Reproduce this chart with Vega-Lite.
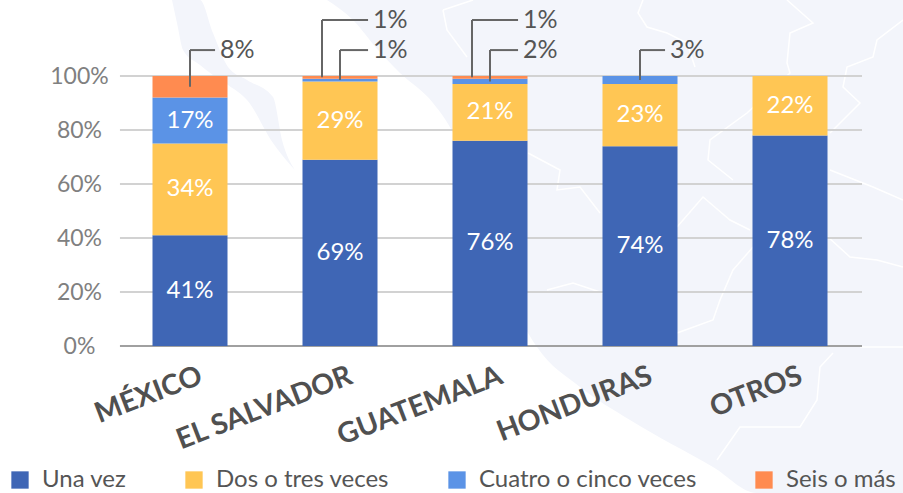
{
"$schema":"https://vega.github.io/schema/vega-lite/v6.json",
"width":750,"height":270,
"autosize":{"type":"none"},
"padding":{"left":115,"top":76,"right":38,"bottom":147},
"background":"white",
"config":{"view":{"stroke":null},"font":"Lato"},
"datasets":{
"bars":[
{"pais":"MÉXICO","serie":"Una vez","o":1,"value":0.41},{"pais":"MÉXICO","serie":"Dos o tres veces","o":2,"value":0.34},{"pais":"MÉXICO","serie":"Cuatro o cinco veces","o":3,"value":0.17},{"pais":"MÉXICO","serie":"Seis o más","o":4,"value":0.08},
{"pais":"EL SALVADOR","serie":"Una vez","o":1,"value":0.69},{"pais":"EL SALVADOR","serie":"Dos o tres veces","o":2,"value":0.29},{"pais":"EL SALVADOR","serie":"Cuatro o cinco veces","o":3,"value":0.01},{"pais":"EL SALVADOR","serie":"Seis o más","o":4,"value":0.01},
{"pais":"GUATEMALA","serie":"Una vez","o":1,"value":0.76},{"pais":"GUATEMALA","serie":"Dos o tres veces","o":2,"value":0.21},{"pais":"GUATEMALA","serie":"Cuatro o cinco veces","o":3,"value":0.02},{"pais":"GUATEMALA","serie":"Seis o más","o":4,"value":0.01},
{"pais":"HONDURAS","serie":"Una vez","o":1,"value":0.74},{"pais":"HONDURAS","serie":"Dos o tres veces","o":2,"value":0.23},{"pais":"HONDURAS","serie":"Cuatro o cinco veces","o":3,"value":0.03},
{"pais":"OTROS","serie":"Una vez","o":1,"value":0.78},{"pais":"OTROS","serie":"Dos o tres veces","o":2,"value":0.22}
],
"callouts":[
{"u":0.5,"ue":0.667,"tip":0.96,"level":1.096,"label":"8%"},
{"u":1.38,"ue":1.687,"tip":0.995,"level":1.207,"label":"1%"},
{"u":1.5,"ue":1.687,"tip":0.985,"level":1.096,"label":"1%"},
{"u":2.38,"ue":2.687,"tip":0.995,"level":1.207,"label":"1%"},
{"u":2.5,"ue":2.687,"tip":0.98,"level":1.096,"label":"2%"},
{"u":3.5,"ue":3.667,"tip":0.985,"level":1.096,"label":"3%"}
],
"grid":[{"g":0},{"g":0.2},{"g":0.4},{"g":0.6},{"g":0.8},{"g":1}],
"land":[
{"p":"a","mx":172,"lo":0,"hi":0},{"p":"a","mx":177,"lo":23,"hi":0},{"p":"a","mx":183,"lo":50,"hi":0},{"p":"a","mx":200,"lo":65,"hi":0},{"p":"a","mx":213,"lo":75,"hi":33},{"p":"a","mx":228,"lo":85,"hi":67},{"p":"a","mx":247,"lo":100,"hi":80},{"p":"a","mx":273,"lo":143,"hi":97},{"p":"a","mx":282,"lo":155,"hi":140},{"p":"a","mx":295,"lo":170,"hi":170},
{"p":"b","mx":327,"lo":0,"hi":0},{"p":"b","mx":353,"lo":20,"hi":0},{"p":"b","mx":378,"lo":50,"hi":0},{"p":"b","mx":400,"lo":73,"hi":0},{"p":"b","mx":433,"lo":103,"hi":0},{"p":"b","mx":453,"lo":133,"hi":0},{"p":"b","mx":490,"lo":250,"hi":0},{"p":"b","mx":537,"lo":347,"hi":0},{"p":"b","mx":580,"lo":387,"hi":0},{"p":"b","mx":630,"lo":420,"hi":0},{"p":"b","mx":713,"lo":467,"hi":0},{"p":"b","mx":757,"lo":493,"hi":0},{"p":"b","mx":903,"lo":493,"hi":0}
],
"borders":[
{"b":"a","i":1,"mx":643,"my":0},{"b":"a","i":2,"mx":638,"my":13},{"b":"a","i":3,"mx":647,"my":27},{"b":"a","i":4,"mx":667,"my":33},{"b":"a","i":5,"mx":687,"my":43},{"b":"a","i":6,"mx":695,"my":67},
{"b":"c","i":1,"mx":787,"my":0},{"b":"c","i":2,"mx":813,"my":23},{"b":"c","i":3,"mx":790,"my":33},{"b":"c","i":4,"mx":787,"my":63},{"b":"c","i":5,"mx":790,"my":73},{"b":"c","i":6,"mx":747,"my":113},{"b":"c","i":7,"mx":710,"my":140},{"b":"c","i":8,"mx":708,"my":160},{"b":"c","i":9,"mx":733,"my":180},
{"b":"d","i":1,"mx":903,"my":20},{"b":"d","i":2,"mx":877,"my":40},{"b":"d","i":3,"mx":873,"my":57},{"b":"d","i":4,"mx":847,"my":67},{"b":"d","i":5,"mx":843,"my":87},{"b":"d","i":6,"mx":860,"my":103},{"b":"d","i":7,"mx":830,"my":133},
{"b":"e","i":1,"mx":830,"my":170},{"b":"e","i":2,"mx":873,"my":187},{"b":"e","i":3,"mx":903,"my":200},
{"b":"f","i":1,"mx":677,"my":227},{"b":"f","i":2,"mx":703,"my":197},{"b":"f","i":3,"mx":730,"my":220},{"b":"f","i":4,"mx":750,"my":230},
{"b":"g","i":1,"mx":528,"my":153},{"b":"g","i":2,"mx":560,"my":170},{"b":"g","i":3,"mx":557,"my":190},{"b":"g","i":4,"mx":580,"my":187},{"b":"g","i":5,"mx":600,"my":213},
{"b":"h","i":1,"mx":677,"my":333},{"b":"h","i":2,"mx":713,"my":320},{"b":"h","i":3,"mx":720,"my":300},{"b":"h","i":4,"mx":733,"my":270},{"b":"h","i":5,"mx":753,"my":247},
{"b":"j","i":1,"mx":828,"my":237},{"b":"j","i":2,"mx":850,"my":257},{"b":"j","i":3,"mx":877,"my":260},{"b":"j","i":4,"mx":903,"my":267},
{"b":"k","i":1,"mx":547,"my":290},{"b":"k","i":2,"mx":573,"my":283},{"b":"k","i":3,"mx":603,"my":293},
{"b":"l","i":1,"mx":833,"my":353},{"b":"l","i":2,"mx":820,"my":367},{"b":"l","i":3,"mx":817,"my":400},{"b":"l","i":4,"mx":800,"my":427},{"b":"l","i":5,"mx":740,"my":427},{"b":"l","i":6,"mx":717,"my":460},
{"b":"m","i":1,"mx":860,"my":347},{"b":"m","i":2,"mx":903,"my":347},
{"b":"n","i":1,"mx":443,"my":10},{"b":"n","i":2,"mx":447,"my":30},{"b":"n","i":3,"mx":467,"my":57},
{"b":"o","i":1,"mx":443,"my":10},{"b":"o","i":2,"mx":473,"my":0}
]
},
"resolve":{"scale":{"x":"independent","y":"independent"}},
"layer":[
{"data":{"name":"land"},
 "mark":{"type":"area","color":"#f3f5fb","clip":false,"interpolate":"monotone"},
 "encoding":{
  "x":{"field":"mx","type":"quantitative","scale":{"domain":[115,865]},"axis":null},
  "y":{"field":"lo","type":"quantitative","scale":{"domain":[346,76]},"axis":null},
  "y2":{"field":"hi"},
  "detail":{"field":"p"}}},
{"data":{"name":"borders"},
 "mark":{"type":"line","color":"#ffffff","strokeWidth":1.5,"clip":false},
 "encoding":{
  "x":{"field":"mx","type":"quantitative","scale":{"domain":[115,865]},"axis":null},
  "y":{"field":"my","type":"quantitative","scale":{"domain":[346,76]},"axis":null},
  "detail":{"field":"b"},
  "order":{"field":"i"}}},
{"data":{"name":"grid"},"transform":[{"calculate":"0.033","as":"a"},{"calculate":"4.98","as":"z"}],
 "mark":{"type":"rule","strokeWidth":2,"clip":false},
 "encoding":{
  "y":{"field":"g","type":"quantitative","scale":{"domain":[0,1]},"axis":null},
  "x":{"field":"a","type":"quantitative","scale":{"domain":[0,5]},"axis":null},
  "x2":{"field":"z"},
  "color":{"condition":{"test":"datum.g===0","value":"#a0a0a0"},"value":"#d2d2d2"}}},
{"data":{"name":"bars"},
 "mark":{"type":"bar","width":75},
 "encoding":{
  "x":{"field":"pais","type":"nominal","sort":null,"scale":{"domain":["MÉXICO","EL SALVADOR","GUATEMALA","HONDURAS","OTROS"],"paddingInner":0.5,"paddingOuter":0.25},
   "axis":{"title":null,"domain":false,"ticks":false,"grid":false,"zindex":1,"labelAngle":-21,"labelAlign":"right","labelBaseline":"middle","labelFont":"Lato","labelFontWeight":"bold","labelFontSize":28.5,"labelColor":"#505050","labelPadding":28,"labelOffset":11,"labelLimit":300}},
  "y":{"field":"value","type":"quantitative","stack":"zero","scale":{"domain":[0,1]},
   "axis":{"title":null,"format":".0%","values":[0,0.2,0.4,0.6,0.8,1],"grid":false,"domain":false,"ticks":false,"labelFont":"Lato","labelFontSize":23,"labelColor":"#808080","labelAlign":"center","labelPadding":36}},
  "order":{"field":"o"},
  "color":{"field":"serie","type":"nominal","scale":{"domain":["Una vez","Dos o tres veces","Cuatro o cinco veces","Seis o más"],"range":["#3f66b5","#ffc654","#5b93e6","#ff8b50"]},
   "legend":{"title":null,"orient":"none","legendX":-107,"legendY":392,"direction":"horizontal","columns":4,"columnPadding":55,"symbolType":"square","symbolSize":300,"symbolStrokeWidth":0,"labelFont":"Lato","labelFontSize":24,"labelColor":"#555555","labelLimit":300,"labelOffset":10,"padding":0}}}},
{"data":{"name":"bars"},"transform":[{"filter":"datum.value>=0.17"}],
 "mark":{"type":"text","font":"Lato","fontSize":24,"color":"white","baseline":"middle"},
 "encoding":{
  "x":{"field":"pais","type":"nominal","sort":null,"scale":{"domain":["MÉXICO","EL SALVADOR","GUATEMALA","HONDURAS","OTROS"],"paddingInner":0.5,"paddingOuter":0.25},"axis":null},
  "y":{"field":"value","type":"quantitative","stack":"zero","bandPosition":0.5,"scale":{"domain":[0,1]},"axis":null},
  "order":{"field":"o"},
  "detail":{"field":"serie"},
  "text":{"field":"value","type":"quantitative","format":".0%"}}},
{"data":{"name":"callouts"},
 "mark":{"type":"rule","color":"#666666","strokeWidth":2,"clip":false},
 "encoding":{
  "x":{"field":"u","type":"quantitative","scale":{"domain":[0,5]},"axis":null},
  "y":{"field":"tip","type":"quantitative","scale":{"domain":[0,1]},"axis":null},
  "y2":{"field":"level"}}},
{"data":{"name":"callouts"},
 "mark":{"type":"rule","color":"#666666","strokeWidth":2,"clip":false},
 "encoding":{
  "x":{"field":"u","type":"quantitative","scale":{"domain":[0,5]},"axis":null},
  "x2":{"field":"ue"},
  "y":{"field":"level","type":"quantitative","scale":{"domain":[0,1]},"axis":null}}},
{"data":{"name":"callouts"},
 "mark":{"type":"text","font":"Lato","fontSize":25,"color":"#555555","align":"left","baseline":"middle","dx":5,"clip":false},
 "encoding":{
  "x":{"field":"ue","type":"quantitative","scale":{"domain":[0,5]},"axis":null},
  "y":{"field":"level","type":"quantitative","scale":{"domain":[0,1]},"axis":null},
  "text":{"field":"label"}}}
]
}
